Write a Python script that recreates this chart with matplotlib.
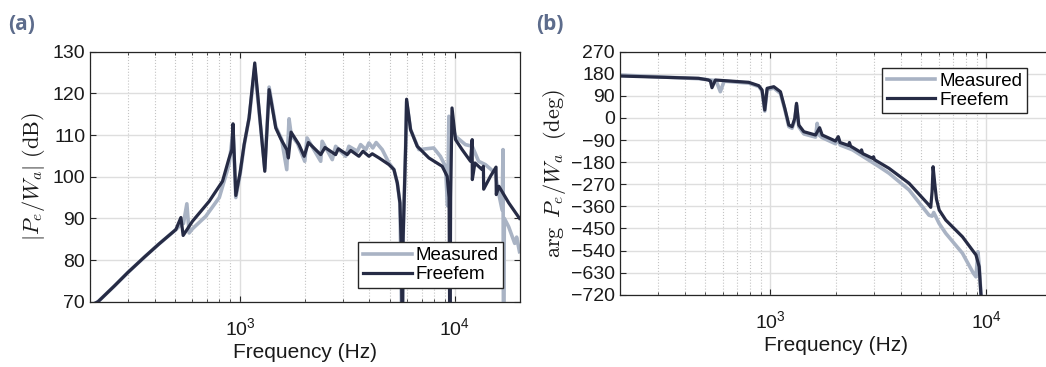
import numpy as np
import matplotlib
matplotlib.use('Agg')
import matplotlib.pyplot as plt
from matplotlib.ticker import FixedLocator, FixedFormatter, LogLocator, NullFormatter

plt.rcParams['font.family'] = ['Liberation Sans', 'DejaVu Sans']
plt.rcParams['mathtext.fontset'] = 'cm'

# (a) magnitude, dB
f_fem_a = [200, 218, 260, 300, 360, 420, 502, 530, 543, 600, 718, 828, 889, 915, 927, 955, 1000, 1044,
           1101, 1170, 1303, 1365, 1466, 1550, 1649, 1678, 1727, 1880, 1988, 2080, 2373, 2485, 2785,
           2865, 3155, 3273, 3575, 3733, 3980, 4125, 4436, 4934, 5205, 5395, 5550, 5640, 5690, 5740,
           5900, 5960, 6220, 6680, 7570, 8730, 9210, 9400, 9480, 9560, 9700, 10070, 10810, 11830,
           12040, 12060, 12400, 13400, 13580, 13620, 14650, 15550, 15590, 16030, 17830, 20000]
db_fem_a = [69.0, 70.0, 73.8, 77.0, 80.8, 83.9, 87.3, 90.2, 85.9, 89.3, 94.1, 98.9, 104.5, 106.5,
            112.7, 95.5, 101.0, 107.7, 114.1, 127.3, 101.3, 120.9, 111.7, 109.0, 106.5, 104.5, 110.7,
            107.7, 104.9, 108.2, 105.3, 107.0, 105.3, 106.7, 105.3, 106.3, 104.9, 106.1, 104.9, 105.5,
            104.5, 102.9, 101.7, 98.5, 93.7, 82.0, 55.0, 85.0, 107.3, 118.6, 111.3, 107.3, 104.5,
            102.5, 100.1, 95.0, 55.0, 95.0, 116.5, 108.9, 106.5, 103.7, 108.9, 99.3, 103.3, 101.7,
            102.5, 97.0, 100.1, 102.3, 95.7, 97.7, 93.7, 90.0]

f_mes_a = [200, 218, 260, 300, 360, 420, 502, 530, 545, 565, 579, 600, 692, 800, 889, 927, 955, 1000,
           1044, 1101, 1170, 1303, 1365, 1466, 1560, 1649, 1690, 1730, 1850, 2000, 2050, 2373, 2410,
           2687, 2785, 3100, 3210, 3515, 3640, 3850, 3980, 4150, 4300, 4590, 4934, 5205, 5395, 5550,
           5690, 5740, 5900, 5960, 6220, 6800, 7970, 8560, 9040, 9250, 9380, 10070, 11200, 12050,
           12900, 13870, 15400, 16000, 16600, 16760, 16850, 17000, 17800, 19000, 19400, 20000]
db_mes_a = [69.0, 70.0, 73.8, 77.0, 80.8, 83.9, 87.3, 88.5, 88.8, 93.5, 86.5, 87.5, 90.5, 95.0, 103.0,
            111.0, 95.0, 100.5, 107.5, 114.0, 126.0, 102.0, 121.5, 112.0, 109.0, 101.7, 113.9, 110.0,
            108.0, 103.7, 109.3, 103.7, 108.5, 104.1, 107.3, 104.9, 107.3, 106.1, 107.7, 106.5, 108.1,
            106.9, 108.2, 106.5, 103.3, 101.7, 98.5, 93.7, 55.0, 85.0, 107.3, 118.0, 111.3, 106.5,
            106.9, 104.9, 102.5, 93.0, 114.5, 109.7, 107.7, 107.3, 103.7, 102.9, 100.9, 96.0, 92.0,
            106.5, 55.0, 90.0, 88.0, 84.0, 85.5, 82.0]

# (b) phase, deg
f_fem_b = [200, 465, 514, 527, 536, 556, 793, 883, 914, 941, 965, 1036, 1112, 1165, 1216, 1259, 1296,
           1320, 1352, 1427, 1617, 1688, 1735, 2000, 2060, 2100, 2300, 2320, 2350, 2620, 2640, 2670,
           2980, 3000, 3030, 3537, 4380, 5420, 5520, 5600, 5660, 5760, 5866, 6040, 6480, 7740, 8940,
           9250, 9420, 9600]
deg_fem_b = [171, 161.6, 155, 150.6, 123.3, 154.6, 145.3, 131.5, 114, 32.5, 120.9, 127.4, 107, 39.4,
             -28.6, -35.5, -1.3, 59.8, -28.6, -56, -69.4, -39.6, -69.4, -94, -76, -100, -112, -100,
             -115, -140, -130, -145, -165, -158, -170, -205, -266, -355, -364, -300, -198.5, -266,
             -330, -375, -416, -484, -558, -606, -714, -800]

f_mes_b = [200, 465, 560, 586, 610, 793, 883, 914, 941, 965, 1036, 1112, 1165, 1216, 1259, 1296, 1320,
           1352, 1427, 1617, 1645, 1680, 1735, 2000, 2060, 2100, 2400, 3180, 3537, 4380, 5420, 5600,
           5700, 6040, 6480, 7740, 8700, 8940, 9130, 9250, 9420, 9600]
deg_mes_b = [175, 160, 152, 107, 150, 142, 128, 110, 28, 115, 122, 100, 35, -35, -42, -8, 52, -36, -65,
             -78, -22, -70, -80, -105, -85, -110, -130, -198, -225, -293, -396, -400, -385, -430, -470,
             -551, -633, -647, -545, -600, -715, -800]

c_mes = '#a9b3c4'
c_fem = '#262b45'
c_panel = '#5d6c8c'
W, H = 1046, 367

fig = plt.figure(figsize=(W / 100, H / 100), dpi=100)
ax1 = fig.add_axes([90 / W, 1 - 301.7 / H, (519.5 - 90) / W, 250 / H])
ax2 = fig.add_axes([619.5 / W, 1 - 294.7 / H, 432 / W, 243 / H])


def style(ax):
    ax.set_xscale('log')
    ax.set_xlim(200, 20000)
    ax.xaxis.set_major_locator(FixedLocator([1e3, 1e4]))
    ax.xaxis.set_major_formatter(FixedFormatter([r'$\mathregular{10^3}$', r'$\mathregular{10^4}$']))
    ax.xaxis.set_minor_locator(LogLocator(base=10, subs=np.arange(2, 10)))
    ax.xaxis.set_minor_formatter(NullFormatter())
    ax.grid(True, which='major', color='#dedede', lw=1.0)
    ax.grid(True, which='minor', axis='x', color='#c4c4c4', lw=0.8, ls=':')
    ax.tick_params(which='both', direction='in', top=True, right=True, colors='#262626',
                   labelsize=14, labelcolor='#1a1a1a')
    ax.tick_params(which='major', length=4)
    ax.tick_params(which='minor', length=2)
    ax.tick_params(axis='x', pad=11)
    for s in ax.spines.values():
        s.set_color('#262626')
        s.set_linewidth(0.9)
    ax.set_xlabel('Frequency (Hz)', fontsize=15, color='#1a1a1a', labelpad=3)


ax1.plot(f_mes_a, db_mes_a, color=c_mes, lw=2.6, label='Measured')
ax1.plot(f_fem_a, db_fem_a, color=c_fem, lw=2.3, label='Freefem')
style(ax1)
ax1.set_ylim(70, 130)
ax1.set_yticks(range(70, 131, 10))
ax1.set_ylabel(r'$|P_e/W_a|\ (\mathrm{dB})$', fontsize=16, color='#1a1a1a', labelpad=4)
ax1.legend(loc='lower right', bbox_to_anchor=(0.962, 0.055), fontsize=13.5, frameon=True,
           fancybox=False, edgecolor='#262626', framealpha=1, handlelength=2.6,
           borderpad=0.25, labelspacing=0.1, handletextpad=0.2, borderaxespad=0)

ax2.plot(f_mes_b, deg_mes_b, color=c_mes, lw=2.6, label='Measured')
ax2.plot(f_fem_b, deg_fem_b, color=c_fem, lw=2.3, label='Freefem')
style(ax2)
ax2.set_ylim(-720, 270)
ax2.set_yticks(range(-720, 271, 90))
ax2.set_ylabel(r'$\arg\ P_e/W_a\ \ (\mathrm{deg})$', fontsize=16, color='#1a1a1a', labelpad=2)
ax2.legend(loc='upper right', bbox_to_anchor=(0.943, 0.933), fontsize=13.5, frameon=True,
           fancybox=False, edgecolor='#262626', framealpha=1, handlelength=2.6,
           borderpad=0.25, labelspacing=0.1, handletextpad=0.2, borderaxespad=0)

fig.text(8 / W, 1 - 25 / H, '(a)', fontsize=15, fontweight='bold', color=c_panel,
         family=['Open Sans', 'DejaVu Sans'], va='center', ha='left')
fig.text(536 / W, 1 - 24 / H, '(b)', fontsize=15, fontweight='bold', color=c_panel,
         family=['Open Sans', 'DejaVu Sans'], va='center', ha='left')

fig.savefig('out.png', dpi=100)
